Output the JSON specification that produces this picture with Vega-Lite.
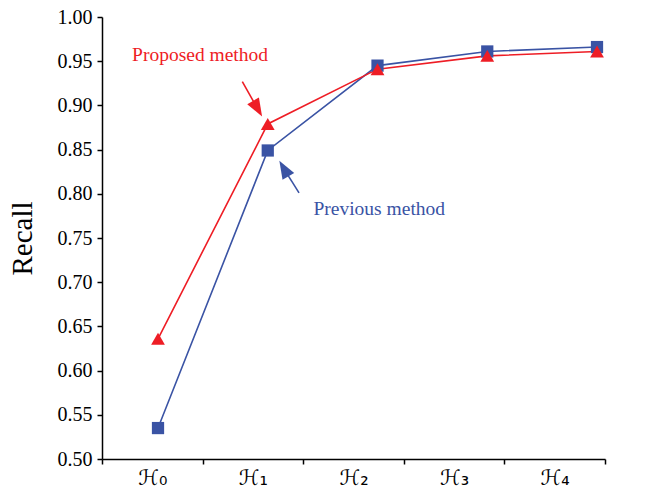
{
  "$schema": "https://vega.github.io/schema/vega-lite/v6.json",
  "width": 503,
  "height": 442,
  "autosize": "none",
  "padding": {"left": 102, "top": 17, "right": 54, "bottom": 31},
  "background": "white",
  "config": {
    "view": {"stroke": null},
    "axis": {"grid": false, "domainColor": "black", "tickColor": "black", "labelColor": "black", "titleColor": "black", "domainWidth": 1.5, "tickWidth": 1.5, "tickSize": 5}
  },
  "datasets": {
    "series": [
      {"h": "ℋ₀", "idx": 0, "method": "Previous", "recall": 0.535},
      {"h": "ℋ₁", "idx": 1, "method": "Previous", "recall": 0.849},
      {"h": "ℋ₂", "idx": 2, "method": "Previous", "recall": 0.945},
      {"h": "ℋ₃", "idx": 3, "method": "Previous", "recall": 0.961},
      {"h": "ℋ₄", "idx": 4, "method": "Previous", "recall": 0.966},
      {"h": "ℋ₀", "idx": 0, "method": "Proposed", "recall": 0.636},
      {"h": "ℋ₁", "idx": 1, "method": "Proposed", "recall": 0.879},
      {"h": "ℋ₂", "idx": 2, "method": "Proposed", "recall": 0.941},
      {"h": "ℋ₃", "idx": 3, "method": "Proposed", "recall": 0.956},
      {"h": "ℋ₄", "idx": 4, "method": "Proposed", "recall": 0.961}
    ],
    "notes": [
      {"label": "Proposed method", "method": "Proposed", "idx": 0.383, "recall": 0.950},
      {"label": "Previous method", "method": "Previous", "idx": 2.016, "recall": 0.776}
    ],
    "arrows": [
      {"method": "Proposed", "x": 0.768, "y": 0.927, "x2": 0.895, "y2": 0.899},
      {"method": "Previous", "x": 1.285, "y": 0.801, "x2": 1.159, "y2": 0.826}
    ]
  },
  "resolve": {"scale": {"x": "independent"}, "axis": {"x": "independent"}},
  "layer": [
    {
      "data": {"name": "series"},
      "mark": {"type": "point", "opacity": 0},
      "encoding": {
        "x": {"field": "h", "type": "ordinal", "sort": null, "scale": {"type": "band", "paddingInner": 0, "paddingOuter": 0},
          "axis": {"title": null, "tickBand": "extent", "labelAngle": 0, "labelFont": "DejaVu Sans", "labelFontSize": 21, "labelPadding": 3}},
        "y": {"field": "recall", "type": "quantitative", "scale": {"domain": [0.5, 1.0], "nice": false, "zero": false},
          "axis": {"title": "Recall", "titleFont": "Liberation Serif", "titleFontSize": 29, "titleFontWeight": "normal", "titlePadding": 20, "values": [0.5, 0.55, 0.6, 0.65, 0.7, 0.75, 0.8, 0.85, 0.9, 0.95, 1.0], "format": ".2f", "labelFont": "Liberation Serif", "labelFontSize": 20, "labelPadding": 5}}
      }
    },
    {
      "data": {"name": "series"},
      "mark": {"type": "line", "strokeWidth": 1.6},
      "encoding": {
        "x": {"field": "idx", "type": "quantitative", "scale": {"domain": [-0.5103, 4.0728], "nice": false, "zero": false}, "axis": null},
        "y": {"field": "recall", "type": "quantitative"},
        "color": {"field": "method", "type": "nominal", "scale": {"domain": ["Previous", "Proposed"], "range": ["#3a53a4", "#ee1d25"]}, "legend": null},
        "order": {"field": "idx"}
      }
    },
    {
      "data": {"name": "series"},
      "transform": [{"filter": "datum.method === 'Previous'"}],
      "mark": {"type": "point", "shape": "square", "filled": true, "opacity": 1, "size": 150, "color": "#3a53a4"},
      "encoding": {
        "x": {"field": "idx", "type": "quantitative", "scale": {"domain": [-0.5103, 4.0728], "nice": false, "zero": false}, "axis": null},
        "y": {"field": "recall", "type": "quantitative"}
      }
    },
    {
      "data": {"name": "series"},
      "transform": [{"filter": "datum.method === 'Proposed'"}],
      "mark": {"type": "point", "shape": "triangle-up", "filled": true, "opacity": 1, "size": 190, "color": "#ee1d25"},
      "encoding": {
        "x": {"field": "idx", "type": "quantitative", "scale": {"domain": [-0.5103, 4.0728], "nice": false, "zero": false}, "axis": null},
        "y": {"field": "recall", "type": "quantitative"}
      }
    },
    {
      "data": {"name": "notes"},
      "mark": {"type": "text", "font": "Liberation Serif", "fontSize": 19.5, "align": "center", "baseline": "alphabetic"},
      "encoding": {
        "x": {"field": "idx", "type": "quantitative", "scale": {"domain": [-0.5103, 4.0728], "nice": false, "zero": false}, "axis": null},
        "y": {"field": "recall", "type": "quantitative"},
        "text": {"field": "label"},
        "color": {"field": "method", "type": "nominal", "legend": null}
      }
    },
    {
      "data": {"name": "arrows"},
      "mark": {"type": "rule", "strokeWidth": 1.6},
      "encoding": {
        "x": {"field": "x", "type": "quantitative", "scale": {"domain": [-0.5103, 4.0728], "nice": false, "zero": false}, "axis": null},
        "y": {"field": "y", "type": "quantitative"},
        "x2": {"field": "x2"},
        "y2": {"field": "y2"},
        "color": {"field": "method", "type": "nominal", "legend": null}
      }
    },
    {
      "data": {"name": "arrows"},
      "transform": [{"filter": "datum.method === 'Proposed'"}],
      "mark": {"type": "point", "shape": "M0,-1.3L0.75,0.7L-0.75,0.7Z", "filled": true, "opacity": 1, "size": 324, "angle": 150, "color": "#ee1d25"},
      "encoding": {
        "x": {"field": "x2", "type": "quantitative", "scale": {"domain": [-0.5103, 4.0728], "nice": false, "zero": false}, "axis": null},
        "y": {"field": "y2", "type": "quantitative"}
      }
    },
    {
      "data": {"name": "arrows"},
      "transform": [{"filter": "datum.method === 'Previous'"}],
      "mark": {"type": "point", "shape": "M0,-1.3L0.75,0.7L-0.75,0.7Z", "filled": true, "opacity": 1, "size": 324, "angle": 330, "color": "#3a53a4"},
      "encoding": {
        "x": {"field": "x2", "type": "quantitative", "scale": {"domain": [-0.5103, 4.0728], "nice": false, "zero": false}, "axis": null},
        "y": {"field": "y2", "type": "quantitative"}
      }
    }
  ]
}
